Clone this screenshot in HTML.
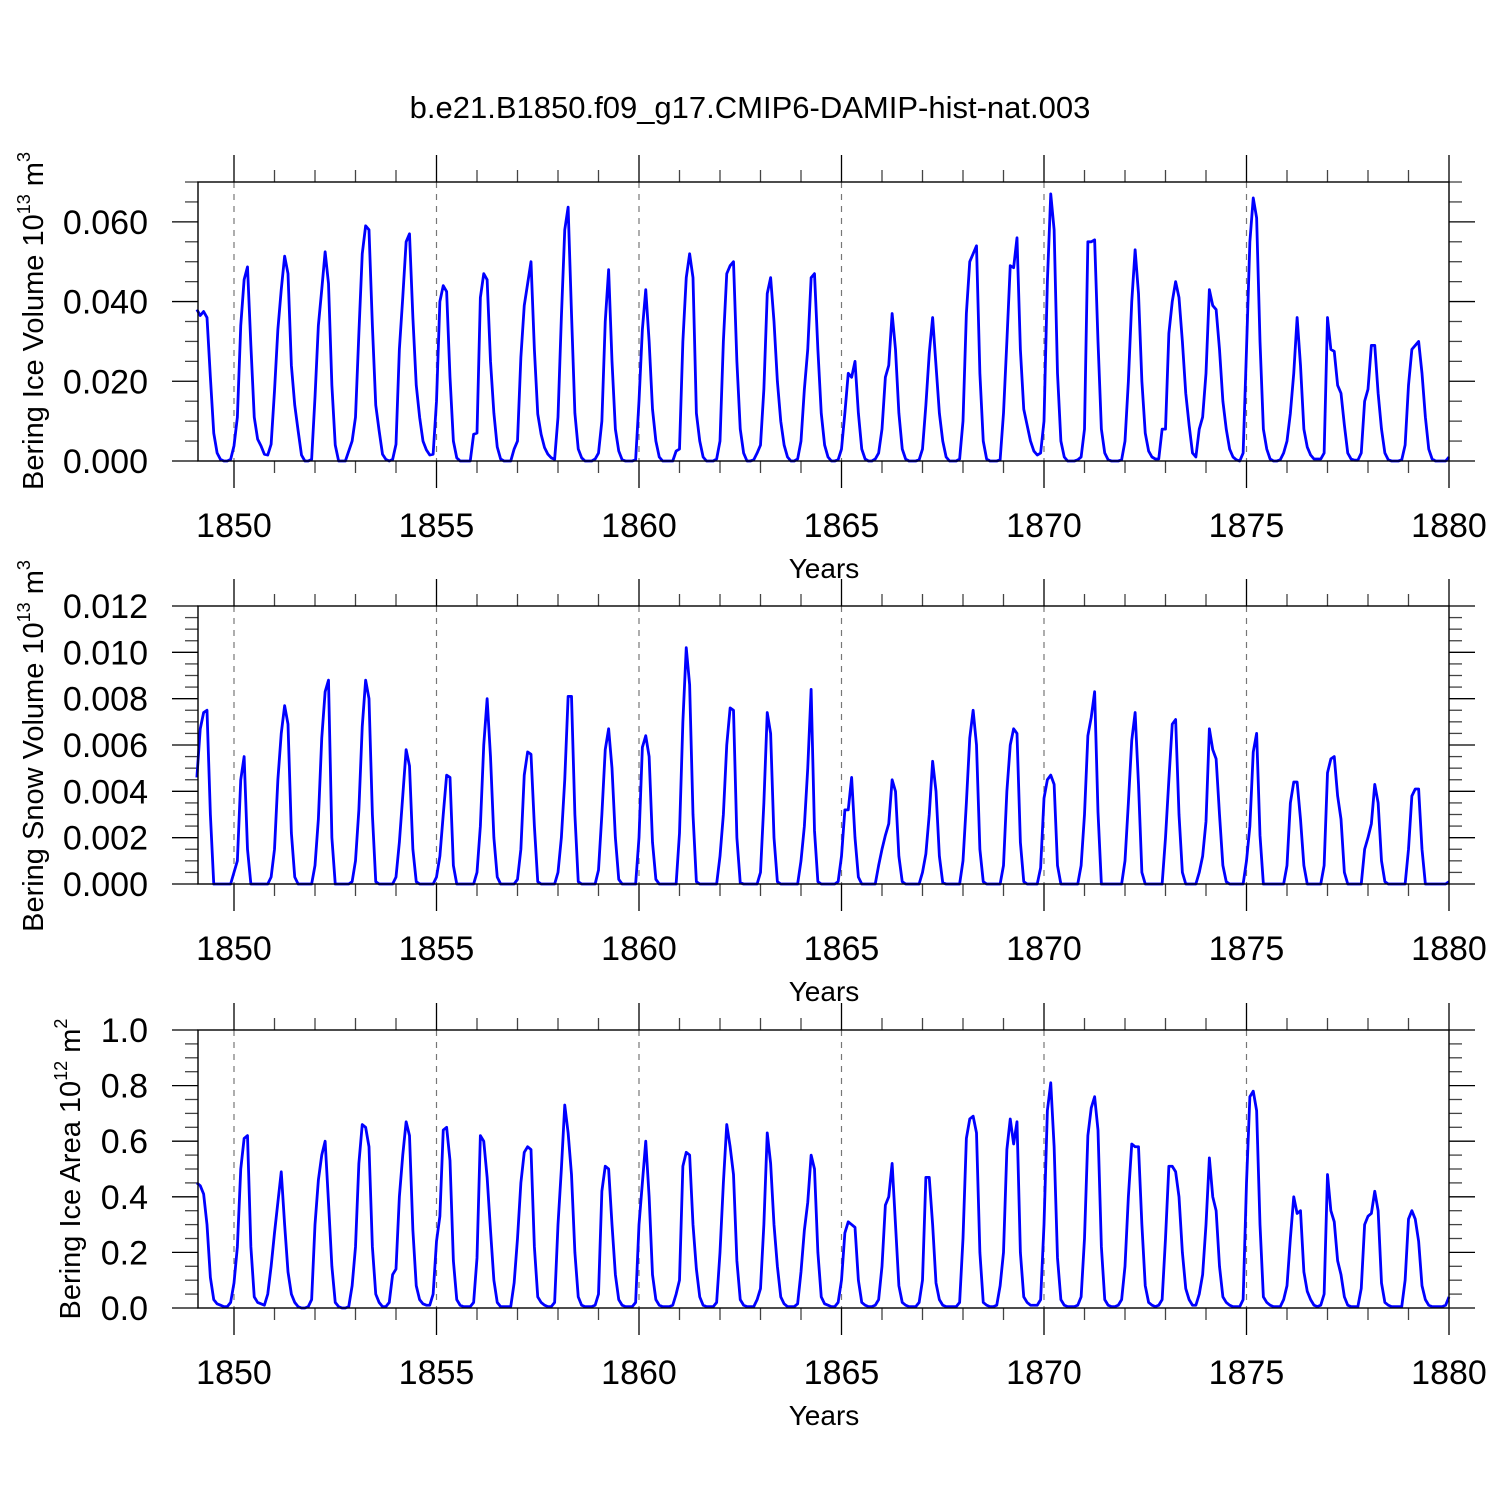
<!DOCTYPE html>
<html><head><meta charset="utf-8"><style>
html,body{margin:0;padding:0;background:#fff;}
svg{display:block;}
text{font-family:"Liberation Sans",Arial,sans-serif;fill:#000;}
</style></head><body>
<svg id="chart" width="1500" height="1500" viewBox="0 0 1500 1500" xmlns="http://www.w3.org/2000/svg">
<rect x="0" y="0" width="1500" height="1500" fill="#fff"/>
<text x="750" y="118" font-size="31" text-anchor="middle">b.e21.B1850.f09_g17.CMIP6-DAMIP-hist-nat.003</text>
</svg>
<script>
// ---- data (monthly, Jan..Dec per year; 1849 starts in Feb; 1880 has Jan only) ----
const startYear = 1849;
const startMonth = 1;
const xTickYears = [1850, 1855, 1860, 1865, 1870, 1875, 1880];
const xTickLabels = ["1850", "1855", "1860", "1865", "1870", "1875", "1880"];

// Ice volume, units of 0.001 x 10^13 m^3
const iceVolume = [
 38,36.5,37.5,36,21,7,2,0.4,0,0,0.4,
 3.8,11,34,45.5,48.7,29,11,5.5,3.8,1.7,1.5,4.2,
 17.6,33,43,51.4,47,24,14,7.6,1.5,0,0,0.4,
 16,34,43,52.5,44.5,19,4,0,0,0,2.5,5,
 11,32,52,59,58,34,14,7.6,1.7,0.4,0,0.4,
 4.2,28,41,55,57,36,19,11,5,2.8,1.5,1.7,
 15,40,44,42.5,21,5,0.8,0,0,0,0,6.7,
 7,41,47,45.5,25,12,3.5,0.5,0,0,0,3,
 5,26,39,44.5,50,28,11.8,6.7,3.4,1.7,0.8,0.4,
 11,36,58,63.7,37,12,3,0.8,0,0,0,0.5,
 2,10,35,48,25,8,2.5,0.3,0,0,0,0.3,
 15,33,43,30,13,5,1,0,0,0,0,2.5,
 3,30,46,52,46,12,5,1,0,0,0,0.5,
 5,30,47,49,50,25,8,2,0,0,0.3,2,
 4,18,42,46,35,20,10,4,1,0,0,0.5,
 5,18,28,46,47,28,12,4,1,0,0,0.3,
 3,12,22,21,25,12,3,0.5,0,0,0.5,2,
 8,21,24,37,28,12,3,0.5,0,0,0,0.3,
 3,14,27,36,24,12,5,1,0,0,0,0.5,
 10,37,50,52,54,22,5,0.5,0,0,0,0.3,
 12,30,49,48.5,56,28,13,9,5,2.5,1.5,2,
 10,45,67,58,22,5,1,0,0,0,0.3,1,
 8,55,55,55.5,30,8,2,0.3,0,0,0,0.3,
 5,20,40,53,42,20,7,2.5,1,0.5,0.5,8,
 8,32,40,45,41,30,17,9,2,1,8,11,
 22,43,39,38,28,15,8,3,1,0.3,0,2,
 28,55,66,61,30,8,3,0.5,0,0,0.3,2,
 5,12,22,36,24,8,3.5,1.5,0.5,0.5,0.5,2,
 36,28,27.5,19,17,9,2,0.5,0.2,0.2,2,15,
 18,29,29,17,8,2,0.3,0,0,0,0.3,4,
 19,28,29,30,22,11,3,0.5,0,0,0,0,
 1
];

// Snow volume, units of 0.0001 x 10^13 m^3
const snowVolume = [
 46,67,74,75,30,0,0,0,0,0,0,
 5,10,45,55,15,0,0,0,0,0,0,3,
 15,45,65,77,69,22,3,0,0,0,0,0,
 8,28,63,83,88,20,0,0,0,0,0,1,
 10,32,68,88,80,30,1,0,0,0,0,0,
 3,18,38,58,51,15,1,0,0,0,0,0,
 3,12,30,47,46,8,0,0,0,0,0,0,
 5,25,60,80,55,20,3,0,0,0,0,0,
 2,15,47,57,56,25,1,0,0,0,0,0,
 5,20,45,81,81,30,1,0,0,0,0,0,
 6,30,58,67,50,20,2,0,0,0,0,0,
 20,59,64,55,18,2,0,0,0,0,0,0,
 22,70,102,86,30,1,0,0,0,0,0,0,
 12,30,60,76,75,20,0.5,0,0,0,0,0,
 5,35,74,65,20,1,0,0,0,0,0,0,
 10,25,50,84,23,1,0,0,0,0,0,1,
 12,32,32,46,20,3,0,0,0,0,0,8,
 15,21,26,45,40,12,1,0,0,0,0,0,
 5,13,30,53,40,12,0.5,0,0,0,0,0,
 10,35,63,75,60,15,1,0,0,0,0,0,
 8,40,60,67,65,18,1,0,0,0,0,7,
 37,45,47,43,8,0,0,0,0,0,0,8,
 30,64,72,83,31,0,0,0,0,0,0,0,
 10,35,62,74,43,5,0,0,0,0,0,0,
 20,45,69,71,30,5,0,0,0,0,5,12,
 27,67,58,54,30,8,1,0,0,0,0,0,
 10,25,57,65,21,0,0,0,0,0,0,0,
 8,35,44,44,28,8,0,0,0,0,0,8,
 48,54,55,38,28,5,0,0,0,0,0,15,
 20,26,43,35,10,1,0,0,0,0,0,0,
 15,38,41,41,15,0,0,0,0,0,0,0,
 1
];

// Ice area, units of 0.01 x 10^12 m^2
const iceArea = [
 45,44,41,30,11,3,1.5,1,0.5,0.5,2,
 9,22,50,61,62,22,4,2,1.5,1,5,15,
 27,38,49,30,13,5,2,0.5,0,0,0.5,3,
 30,46,55,60,38,15,2,0.5,0,0,0.5,8,
 22,52,66,65,58,22,5,2,0.5,0.5,2,12,
 14,40,55,67,62,28,8,3,1.5,1,1,5,
 24,33,64,65,53,17,3,1,0.5,0.5,0.5,2,
 18,62,60,47,28,10,2,0.5,0.5,0.5,0.5,9,
 25,45,56,58,57,22,4,2,1,0.5,0.5,2,
 30,50,73,63,48,20,4,1,0.5,0.5,0.5,1,
 5,42,51,50,30,12,3,1,0.5,0.5,0.5,2,
 30,45,60,40,12,3,1,0.5,0.5,0.5,1,5,
 10,51,56,55,30,14,4,1,0.5,0.5,0.5,2,
 20,45,66,58,48,17,3,1,0.5,0.5,0.5,3,
 7,30,63,52,30,15,4,1.5,0.5,0.5,0.5,1.5,
 13,28,38,55,50,20,4,1.5,1,0.5,0.5,2,
 10,27,31,30,29,10,2,1,0.5,0.5,1,3,
 15,37,40,52,30,8,2,1,0.5,0.5,0.5,2,
 10,47,47,30,9,3,1,0.5,0.5,0.5,0.5,2,
 25,61,68,69,63,20,2,1,0.5,0.5,1,8,
 20,57,68,59,67,20,4,2,1,1,1,3,
 30,71,81,58,18,3,1,0.5,0.5,0.5,1,4,
 25,62,72,76,64,22,3,1,0.5,0.5,1,3,
 15,40,59,58,58,30,8,2,1,0.5,1,3,
 25,51,51,49,40,20,7,3,1,1,5,12,
 30,54,40,35,15,4,2,1,0.5,0.5,0.5,3,
 45,76,78,71,30,4,2,1,0.5,0.5,0.5,3,
 8,25,40,34,35,13,6,3,1,0.5,1,5,
 48,35,31,17,12,4,1,0.5,0.5,0.5,7,30,
 33,34,42,35,9,2,1,0.5,0.5,0.5,0.5,10,
 32,35,32,24,8,3,1,0.5,0.5,0.5,0.5,1,
 4
];

const iceVolumeTicks = ["0.000", "0.020", "0.040", "0.060"];
const snowVolumeTicks = ["0.000", "0.002", "0.004", "0.006", "0.008", "0.010", "0.012"];
const iceAreaTicks = ["0.0", "0.2", "0.4", "0.6", "0.8", "1.0"];

// ---- drawing ----
const NS = "http://www.w3.org/2000/svg";
const svg = document.getElementById("chart");
const X0 = 198, X1 = 1449;
function xScale(t) { return 234 + (t - 1850) * (X1 - 234) / 30; }
function mk(tag, attrs, parent) {
  const e = document.createElementNS(NS, tag);
  for (const k in attrs) e.setAttribute(k, attrs[k]);
  (parent || svg).appendChild(e);
  return e;
}

function drawPanel(p) {
  const g = mk("g", {});
  
  
  const yS = v => p.bottom - (v - p.ymin) / (p.ymax - p.ymin) * (p.bottom - p.top);

  xTickYears.forEach(yr => {
    if (yr >= 1880) return;
    const l = mk("line", {x1: xScale(yr), x2: xScale(yr), y1: p.top, y2: p.bottom, stroke: "#777", "stroke-width": 1.2, "stroke-dasharray": "6,6"}, g);
    
    
  });

  for (let yr = 1850; yr <= 1880; yr++) {
    const major = (yr % 5 === 0);
    const len = major ? 27 : 12;
    const xx = xScale(yr);
    const tc = major ? "#000" : "#444";
    const t1 = mk("line", {x1: xx, x2: xx, y1: p.top - len, y2: p.top, stroke: tc, "stroke-width": 1.3}, g);
    
    
    const t2 = mk("line", {x1: xx, x2: xx, y1: p.bottom, y2: p.bottom + len, stroke: tc, "stroke-width": 1.3}, g);
    
    
  }
  xTickYears.forEach((yr, i) => {
    const t = mk("text", {x: xScale(yr), y: p.bottom + 76, "font-size": 34, "text-anchor": "middle"}, g);
    t.textContent = xTickLabels[i];
    
    
  });
  const xt = mk("text", {x: 824, y: p.bottom + 117, "font-size": 28, "text-anchor": "middle"}, g);
  xt.textContent = "Years";
  
  

  const nMinor = Math.round((p.ymax - p.ymin) / p.minor);
  for (let i = 0; i <= nMinor; i++) {
    const v = p.ymin + i * p.minor;
    const major = (i % p.ratio === 0);
    const len = major ? 26 : 13;
    const yy = yS(v);
    const tc = major ? "#000" : "#444";
    const a = mk("line", {x1: X0 - len, x2: X0, y1: yy, y2: yy, stroke: tc, "stroke-width": 1.3}, g);
    
    
    const b = mk("line", {x1: X1, x2: X1 + len, y1: yy, y2: yy, stroke: tc, "stroke-width": 1.3}, g);
    
    
  }
  p.ticks.forEach((lab, i) => {
    const t = mk("text", {x: 148, y: yS(p.ymin + i * p.minor * p.ratio) + 12, "font-size": 34, "text-anchor": "end"}, g);
    t.textContent = lab;
    
    
  });

  const yt = mk("text", {transform: "translate(" + p.titleX + "," + p.titleY + ") rotate(-90)", "font-size": 29, "text-anchor": "middle"}, g);
  
  
  const s1 = mk("tspan", {}, yt); s1.textContent = p.title + " 10";
  const s2 = mk("tspan", {"font-size": 18, dy: -13}, yt); s2.textContent = p.exp1;
  const s3 = mk("tspan", {"font-size": 29, dy: 13}, yt); s3.textContent = " m";
  const s4 = mk("tspan", {"font-size": 18, dy: -13}, yt); s4.textContent = p.exp2;

  let d = "";
  p.data.forEach((v, i) => {
    const t = startYear + (startMonth + i) / 12;
    d += (i ? "L" : "M") + xScale(t).toFixed(2) + "," + yS(v * p.unit).toFixed(2);
  });
  const path = mk("path", {d: d, fill: "none", stroke: "#0000ff", "stroke-width": 2.8, "stroke-linejoin": "round"}, g);
  
  

  const fr = mk("rect", {x: X0, y: p.top, width: X1 - X0, height: p.bottom - p.top, fill: "none", stroke: "#000", "stroke-width": 1.4}, g);
  
  
}

drawPanel({name: "ice-volume", top: 182, bottom: 461, ymin: 0, ymax: 0.07, minor: 0.005, ratio: 4,
  ticks: iceVolumeTicks, data: iceVolume, unit: 0.001, title: "Bering Ice Volume", exp1: "13", exp2: "3", titleX: 43, titleY: 321});
drawPanel({name: "snow-volume", top: 606, bottom: 884, ymin: 0, ymax: 0.012, minor: 0.0005, ratio: 4,
  ticks: snowVolumeTicks, data: snowVolume, unit: 0.0001, title: "Bering Snow Volume", exp1: "13", exp2: "3", titleX: 43, titleY: 746});
drawPanel({name: "ice-area", top: 1030, bottom: 1308, ymin: 0, ymax: 1.0, minor: 0.05, ratio: 4,
  ticks: iceAreaTicks, data: iceArea, unit: 0.01, title: "Bering Ice Area", exp1: "12", exp2: "2", titleX: 80, titleY: 1169});
</script>
</body></html>
